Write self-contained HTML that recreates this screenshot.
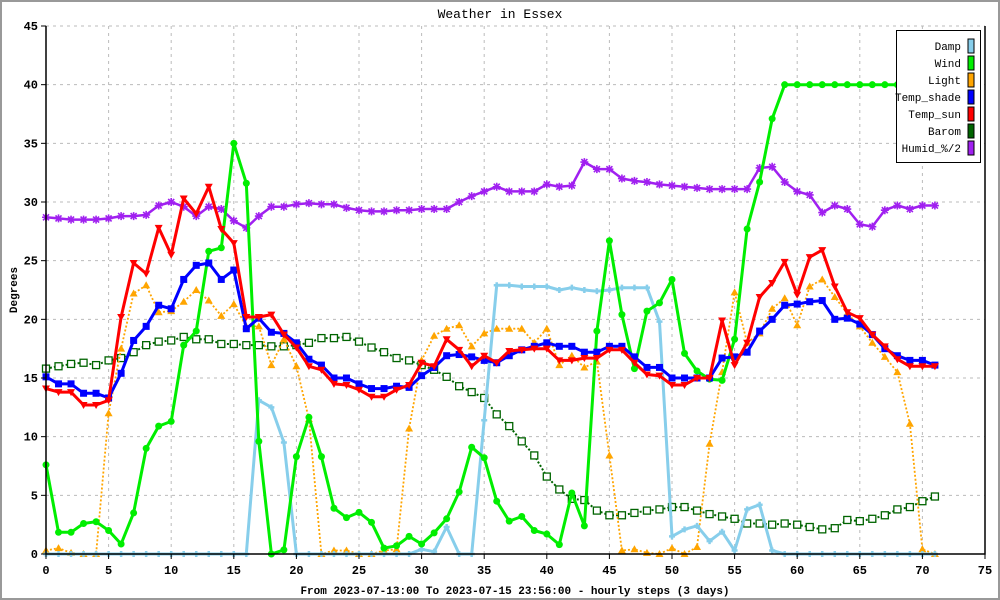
<!DOCTYPE html>
<html><head><meta charset="utf-8"><style>
html,body{margin:0;padding:0;background:#fff}
svg{display:block}
text{font-family:"Liberation Mono","DejaVu Sans Mono",monospace}
</style></head><body>
<svg id="chart" width="1000" height="600" xmlns="http://www.w3.org/2000/svg">
<rect x="1" y="1" width="998" height="598" fill="#fff" stroke="#999" stroke-width="2"/>
<text x="500" y="18" text-anchor="middle" font-size="13">Weather in Essex</text>
<text transform="translate(17,290) rotate(-90)" text-anchor="middle" font-size="11" font-weight="bold">Degrees</text>
<text x="515" y="594" text-anchor="middle" font-size="11" font-weight="bold">From 2023-07-13:00 To 2023-07-15 23:56:00 - hourly steps (3 days)</text>
<g id="grid"></g>
<g id="series"></g>
<g id="axes"></g>
<g id="legend"></g>
</svg>
<script>
const xTicks=[0,5,10,15,20,25,30,35,40,45,50,55,60,65,70,75];
const yTicks=[0,5,10,15,20,25,30,35,40,45];
const damp=[0,0,0,0,0,0,0,0,0,0,0,0,0,0,0,0,0,13.1,12.5,9.5,0,0,0,0,0,0,0,0,0,0,0.4,0.2,2.3,0,0,11.4,22.9,22.9,22.8,22.8,22.8,22.5,22.7,22.5,22.4,22.5,22.7,22.7,22.7,19.8,1.5,2.1,2.4,1.1,1.9,0.3,3.8,4.2,0.3,0,0,0,0,0,0,0,0,0,0,0,0,0];
const wind=[7.6,1.85,1.85,2.6,2.75,2.0,0.85,3.5,9.0,10.9,11.3,17.8,19.0,25.8,26.1,35.0,31.6,9.6,0,0.35,8.3,11.65,8.3,3.9,3.1,3.55,2.7,0.5,0.7,1.5,0.85,1.8,3.0,5.3,9.1,8.2,4.5,2.8,3.2,2.0,1.7,0.8,5.2,2.4,19.0,26.7,20.4,15.8,20.7,21.4,23.4,17.1,15.6,14.9,14.8,18.3,27.7,31.7,37.1,40,40,40,40,40,40,40,40,40,40,40,40,40];
const light=[0.3,0.5,0.1,0,0,12.0,17.5,22.2,22.9,20.6,20.7,21.5,22.5,21.6,20.3,21.3,19.4,19.4,16.1,18.3,16.0,11.5,0,0.3,0.3,0,0,0.3,0.4,10.7,16.5,18.6,19.2,19.5,17.7,18.8,19.2,19.2,19.2,18.0,19.2,16.1,16.9,15.9,16.4,8.4,0.3,0.4,0.1,0,0.5,0,0.6,9.4,15.5,22.3,18.0,18.8,20.9,21.8,19.5,22.8,23.4,21.9,20.5,19.4,18.0,16.8,15.5,11.1,0.4,0];
const tempShade=[15.1,14.5,14.5,13.7,13.7,13.3,15.4,18.2,19.4,21.2,20.9,23.4,24.6,24.8,23.4,24.2,19.2,20.1,18.9,18.8,18.0,16.6,16.1,15.0,15.0,14.5,14.1,14.1,14.3,14.2,15.2,15.9,16.9,17.0,16.8,16.5,16.3,16.9,17.4,17.7,18.0,17.7,17.7,17.2,17.2,17.7,17.7,16.8,15.9,15.9,15.0,15.0,15.0,15.0,16.7,16.8,17.2,19.0,20.0,21.2,21.3,21.5,21.6,20.0,20.1,19.6,18.7,17.5,16.9,16.5,16.5,16.1];
const tempSun=[14.1,13.8,13.8,12.7,12.7,13.1,20.2,24.8,23.9,27.8,25.5,30.3,29.0,31.3,27.7,26.5,20.2,20.2,20.4,18.7,17.6,16.0,15.7,14.5,14.4,14.0,13.4,13.4,14.0,14.4,16.3,16.0,18.3,17.4,16.0,16.9,16.3,17.3,17.4,17.5,17.5,16.5,16.5,16.7,16.7,17.4,17.4,16.3,15.3,15.2,14.4,14.4,15.0,15.0,19.9,16.1,18.0,21.9,23.1,24.9,22.1,25.3,25.9,22.8,20.6,20.1,18.7,17.7,16.6,16.0,16.0,16.0];
const barom=[15.8,16.0,16.2,16.3,16.1,16.5,16.7,17.2,17.8,18.1,18.2,18.5,18.3,18.3,17.9,17.9,17.8,17.8,17.7,17.7,17.8,18.0,18.4,18.4,18.5,18.1,17.6,17.2,16.7,16.5,16.1,15.7,15.1,14.3,13.8,13.3,11.9,10.9,9.6,8.4,6.6,5.5,4.7,4.6,3.7,3.3,3.3,3.5,3.7,3.8,4.0,4.0,3.7,3.4,3.2,3.0,2.6,2.6,2.5,2.6,2.5,2.3,2.1,2.2,2.9,2.8,3.0,3.3,3.8,4.0,4.5,4.9];
const humid=[28.7,28.6,28.5,28.5,28.5,28.6,28.8,28.8,28.9,29.7,30.0,29.6,28.8,29.6,29.4,28.4,27.8,28.8,29.6,29.6,29.8,29.9,29.8,29.8,29.5,29.3,29.2,29.2,29.3,29.3,29.4,29.4,29.4,30.0,30.5,30.9,31.3,30.9,30.9,30.9,31.5,31.3,31.4,33.4,32.8,32.8,32.0,31.8,31.7,31.5,31.4,31.3,31.2,31.1,31.1,31.1,31.1,32.9,33.0,31.7,30.9,30.6,29.1,29.7,29.4,28.1,27.9,29.3,29.7,29.4,29.7,29.7];
const seriesNames=["Damp","Wind","Light","Temp_shade","Temp_sun","Barom","Humid_%/2"];

const NS="http://www.w3.org/2000/svg";
const X0=46,X1=985,Y0=554,Y1=26;
const xs=v=>X0+(v-0)*(X1-X0)/75;
const ys=v=>Y0-(v-0)*(Y0-Y1)/45;
function mk(tag,attrs,parent){const e=document.createElementNS(NS,tag);for(const k in attrs)e.setAttribute(k,attrs[k]);parent.appendChild(e);return e;}
const grid=document.getElementById('grid'),axes=document.getElementById('axes'),ser=document.getElementById('series'),leg=document.getElementById('legend');
xTicks.forEach(t=>{
  if(t>0&&t<75){const l=mk('line',{x1:xs(t),x2:xs(t),y1:Y1,y2:Y0,stroke:'#bbb','stroke-dasharray':'3,4'},grid);
  
  }
  const tk=mk('line',{x1:xs(t),x2:xs(t),y1:Y0,y2:Y0+5,stroke:'#000'},axes);
  
  
  const tx=mk('text',{x:xs(t),y:Y0+20,'text-anchor':'middle','font-size':'12','font-weight':'bold'},axes);tx.textContent=t;
  
  
});
yTicks.forEach(t=>{
  if(t>0){const l=mk('line',{x1:X0,x2:X1,y1:ys(t),y2:ys(t),stroke:'#bbb','stroke-dasharray':'3,4'},grid);
  
  }
  const tk=mk('line',{x1:X0-5,x2:X0,y1:ys(t),y2:ys(t),stroke:'#000'},axes);
  
  
  const tx=mk('text',{x:X0-8,y:ys(t)+4,'text-anchor':'end','font-size':'12','font-weight':'bold'},axes);tx.textContent=t;
  
  
});
const ax=mk('path',{d:`M${X0},${Y1}V${Y0}H${X1}V${Y1}`,fill:'none',stroke:'#000','stroke-width':'1.5'},axes);



function marker(g,type,x,y,c){
  let e;
  if(type==='circle')e=mk('circle',{cx:x,cy:y,r:3.5,fill:c},g);
  else if(type==='square')e=mk('rect',{x:x-3.5,y:y-3.5,width:7,height:7,fill:c},g);
  else if(type==='osquare')e=mk('rect',{x:x-3.5,y:y-3.5,width:7,height:7,fill:'#fff',stroke:c,'stroke-width':1.3},g);
  else if(type==='tup')e=mk('path',{d:`M${x},${y-4}L${x+4},${y+3}L${x-4},${y+3}Z`,fill:c},g);
  else if(type==='tdown')e=mk('path',{d:`M${x},${y+4}L${x+4},${y-3}L${x-4},${y-3}Z`,fill:c},g);
  else if(type==='plus')e=mk('path',{d:`M${x-3},${y}H${x+3}M${x},${y-3}V${y+3}`,stroke:c,'stroke-width':2.5},g);
  else if(type==='star')e=mk('path',{d:`M${x-4},${y}H${x+4}M${x},${y-4}V${y+4}M${x-3},${y-3}L${x+3},${y+3}M${x-3},${y+3}L${x+3},${y-3}`,stroke:c,'stroke-width':1.6},g);
  
  
}
function drawSeries(data,color,width,dash,mtype,name){
  const g=mk('g',{},ser);
  
  
  const d=data.map((v,i)=>(i?'L':'M')+xs(i).toFixed(1)+','+ys(v).toFixed(1)).join('');
  const p=mk('path',{d:d,fill:'none',stroke:color,'stroke-width':width,'stroke-linejoin':'round'},g);
  if(dash)p.setAttribute('stroke-dasharray',dash);
  
  
  data.forEach((v,i)=>marker(g,mtype,xs(i),ys(v),color));
}
drawSeries(barom,'#006400',2,'2,2','osquare','barom-series');
drawSeries(light,'#ffa500',1.8,'2,2','tup','light-series');
drawSeries(humid,'#a020f0',2.5,null,'star','humid-series');
drawSeries(damp,'#87ceeb',3,null,'plus','damp-series');
drawSeries(wind,'#00ee00',3,null,'circle','wind-series');
drawSeries(tempShade,'#0000ff',3,null,'square','temp-shade-series');
drawSeries(tempSun,'#ff0000',3,null,'tdown','temp-sun-series');

const colors=['#87ceeb','#00ee00','#ffa500','#0000ff','#ff0000','#006400','#a020f0'];
const lb=mk('rect',{x:896.5,y:30.5,width:84,height:132,fill:'#fff',stroke:'#000'},leg);


seriesNames.forEach((n,i)=>{
  const y=46+i*17;
  const t=mk('text',{x:961,y:y+4,'text-anchor':'end','font-size':'11'},leg);t.textContent=n;
  
  
  const r=mk('rect',{x:968,y:y-7,width:6,height:14,fill:colors[i],stroke:'#000','stroke-width':1},leg);
  
  
});
</script>
</body></html>
